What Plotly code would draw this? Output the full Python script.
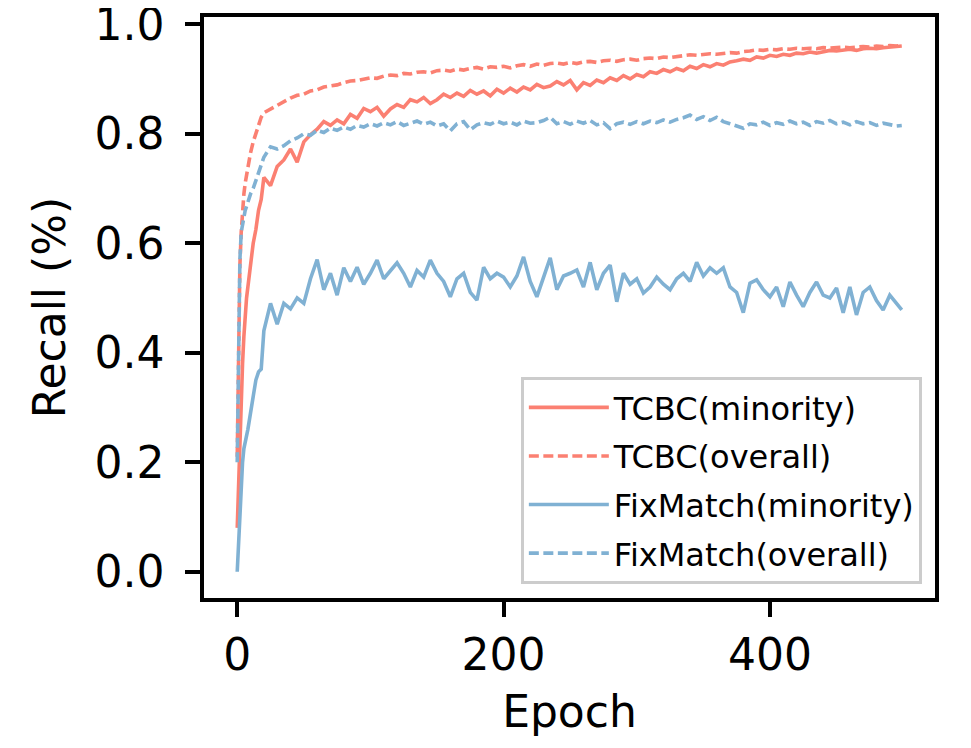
import plotly.graph_objects as go

epochs = [0, 1, 2, 3, 4, 5, 6, 7, 8, 10, 12, 14, 16, 18, 20] + list(range(25, 500, 5)) + [499]

tcbc_overall = [
    0.21, 0.45, 0.56, 0.62, 0.66, 0.69, 0.71, 0.725, 0.74, 0.765, 0.785, 0.80, 0.815, 0.83, 0.838,
    0.845, 0.852, 0.858, 0.865, 0.870, 0.872, 0.878, 0.880, 0.885, 0.887, 0.889, 0.893, 0.896, 0.897, 0.899,
    0.902, 0.901, 0.905, 0.907, 0.906, 0.910, 0.909, 0.912, 0.913, 0.911, 0.915, 0.916, 0.914, 0.918, 0.916,
    0.919, 0.921, 0.918, 0.922, 0.921, 0.923, 0.920, 0.924, 0.926, 0.923, 0.927, 0.925, 0.928, 0.929, 0.927,
    0.930, 0.928, 0.931, 0.932, 0.930, 0.933, 0.934, 0.932, 0.935, 0.936, 0.934, 0.937, 0.938, 0.937, 0.940,
    0.939, 0.941, 0.942, 0.944, 0.943, 0.945, 0.946, 0.945, 0.947, 0.948, 0.947, 0.950, 0.951, 0.953, 0.952,
    0.954, 0.953, 0.955, 0.954, 0.956, 0.955, 0.956, 0.955, 0.957, 0.956, 0.957, 0.958, 0.957, 0.958, 0.959,
    0.958, 0.960, 0.959, 0.961, 0.960, 0.961,
]

tcbc_minority = [
    0.08, 0.17, 0.25, 0.32, 0.38, 0.43, 0.47, 0.50, 0.52, 0.565, 0.60, 0.625, 0.66, 0.68, 0.72,
    0.705, 0.74, 0.752, 0.772, 0.748, 0.785, 0.798, 0.808, 0.822, 0.815, 0.825, 0.818, 0.835, 0.828, 0.846,
    0.840, 0.848, 0.832, 0.845, 0.853, 0.848, 0.862, 0.858, 0.866, 0.855, 0.862, 0.872, 0.866, 0.874, 0.868,
    0.879, 0.872, 0.878, 0.869, 0.881, 0.874, 0.883, 0.876, 0.885, 0.880, 0.890, 0.884, 0.887, 0.895, 0.889,
    0.897, 0.880, 0.893, 0.888, 0.898, 0.893, 0.902, 0.897, 0.906, 0.900, 0.908, 0.904, 0.913, 0.910, 0.917,
    0.913, 0.919, 0.915, 0.923, 0.919, 0.926, 0.922, 0.928, 0.925, 0.931, 0.933, 0.936, 0.934, 0.940, 0.938,
    0.943, 0.941, 0.945, 0.943, 0.947, 0.946, 0.949, 0.947, 0.950, 0.952, 0.951, 0.953, 0.954, 0.952, 0.955,
    0.956, 0.955, 0.957, 0.958, 0.959, 0.960,
]

fixmatch_overall = [
    0.20, 0.45, 0.57, 0.62, 0.635, 0.65, 0.66, 0.667, 0.675, 0.69, 0.70, 0.715, 0.73, 0.745, 0.757,
    0.776, 0.772, 0.778, 0.787, 0.792, 0.800, 0.797, 0.806, 0.802, 0.810, 0.806, 0.812, 0.808, 0.815, 0.812,
    0.818, 0.814, 0.820, 0.816, 0.822, 0.815, 0.819, 0.823, 0.817, 0.821, 0.814, 0.818, 0.805, 0.818, 0.822,
    0.807, 0.816, 0.820, 0.817, 0.823, 0.818, 0.821, 0.816, 0.823, 0.819, 0.820, 0.824, 0.830, 0.818, 0.822,
    0.817, 0.823, 0.819, 0.824, 0.816, 0.820, 0.809, 0.818, 0.821, 0.817, 0.822, 0.818, 0.823, 0.820, 0.825,
    0.821, 0.826, 0.829, 0.834, 0.826, 0.831, 0.824, 0.830, 0.822, 0.818, 0.814, 0.810, 0.818, 0.816, 0.821,
    0.815, 0.820, 0.817, 0.823, 0.818, 0.821, 0.815, 0.822, 0.819, 0.824, 0.818, 0.821, 0.816, 0.822, 0.818,
    0.820, 0.815, 0.819, 0.817, 0.814, 0.815,
]

fixmatch_minority = [
    0.0, 0.06, 0.12, 0.16, 0.20, 0.225, 0.235, 0.245, 0.26, 0.29, 0.325, 0.35, 0.365, 0.37, 0.44,
    0.49, 0.452, 0.49, 0.48, 0.50, 0.49, 0.535, 0.57, 0.515, 0.545, 0.505, 0.555, 0.53, 0.556, 0.525,
    0.545, 0.569, 0.535, 0.55, 0.564, 0.545, 0.52, 0.55, 0.538, 0.569, 0.545, 0.53, 0.502, 0.535, 0.545,
    0.51, 0.496, 0.556, 0.535, 0.545, 0.538, 0.52, 0.54, 0.575, 0.53, 0.502, 0.54, 0.573, 0.515, 0.54,
    0.545, 0.551, 0.52, 0.565, 0.515, 0.545, 0.56, 0.493, 0.545, 0.525, 0.535, 0.509, 0.52, 0.538, 0.525,
    0.515, 0.535, 0.545, 0.53, 0.565, 0.54, 0.555, 0.545, 0.555, 0.52, 0.51, 0.473, 0.527, 0.533, 0.515,
    0.502, 0.52, 0.484, 0.529, 0.505, 0.484, 0.51, 0.529, 0.505, 0.50, 0.518, 0.473, 0.52, 0.469, 0.51,
    0.52, 0.495, 0.478, 0.505, 0.49, 0.478,
]

RED = "#fb8072"
BLUE = "#80b1d3"
DASH = "10px,4.5px"
LW = 3.6

fig = go.Figure()
fig.add_scatter(x=epochs, y=tcbc_minority, mode="lines", name="TCBC(minority)",
                legendgroup="a", line=dict(color=RED, width=LW))
fig.add_scatter(x=epochs, y=tcbc_overall, mode="lines", name="TCBC(overall)",
                legendgroup="b", line=dict(color=RED, width=LW, dash=DASH))
fig.add_scatter(x=epochs, y=fixmatch_minority, mode="lines", name="FixMatch(minority)",
                legendgroup="c", line=dict(color=BLUE, width=LW))
fig.add_scatter(x=epochs, y=fixmatch_overall, mode="lines", name="FixMatch(overall)",
                legendgroup="d", line=dict(color=BLUE, width=LW, dash=DASH))

axis_style = dict(showline=True, linecolor="black", linewidth=3.5, mirror=True,
                  ticks="outside", ticklen=15, tickwidth=3.5, tickcolor="black",
                  showgrid=False, zeroline=False, ticklabeloverflow="allow", automargin=False,
                  tickfont=dict(size=44, color="black"))

fig.update_xaxes(range=[-24.95, 523.95], tickvals=[0, 200, 400], ticklabelstandoff=0,
                 title=dict(text="Epoch", font=dict(size=44, color="black"), standoff=19),
                 **axis_style)
fig.update_yaxes(range=[-0.048, 1.013], tickvals=[0.0, 0.2, 0.4, 0.6, 0.8, 1.0], tickformat=".1f",
                 ticklabelstandoff=12,
                 title=dict(text="Recall (%)", font=dict(size=44, color="black"), standoff=16),
                 **axis_style)

fig.update_layout(
    width=971, height=748,
    margin=dict(l=196, r=44, t=9, b=158),
    paper_bgcolor="white", plot_bgcolor="white",
    font=dict(family="DejaVu Sans", color="black"),
    legend=dict(x=0.982, y=0.024, xanchor="right", yanchor="bottom",
                traceorder="grouped", tracegroupgap=4, itemwidth=80,
                bgcolor="white", bordercolor="#cccccc", borderwidth=3,
                font=dict(size=32, color="black")),
)

fig.write_html("out.html")
